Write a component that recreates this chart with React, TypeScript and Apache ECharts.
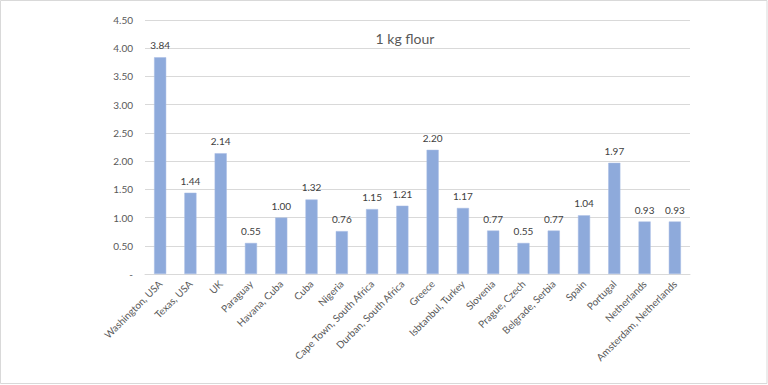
import React, { useEffect, useRef } from "react";
import * as echarts from "echarts";

const categories = [
  "Washington, USA",
  "Texas, USA",
  "UK",
  "Paraguay",
  "Havana, Cuba",
  "Cuba",
  "Nigeria",
  "Cape Town, South Africa",
  "Durban, South Africa",
  "Greece",
  "Isbtanbul, Turkey",
  "Slovenia",
  "Prague, Czech",
  "Belgrade, Serbia",
  "Spain",
  "Portugal",
  "Netherlands",
  "Amsterdam, Netherlands",
];

const values = [3.84, 1.44, 2.14, 0.55, 1.0, 1.32, 0.76, 1.15, 1.21, 2.2, 1.17, 0.77, 0.55, 0.77, 1.04, 1.97, 0.93, 0.93];

const titleText = "1 kg flour";
const yMin = 0;
const yMax = 4.5;
const yStep = 0.5;

const FONT = "Lato, 'Open Sans', sans-serif";

export default function App() {
  const ref = useRef<HTMLDivElement>(null);
  useEffect(() => {
    if (!ref.current) return;
    const chart = echarts.init(ref.current, null, { renderer: "svg" });
    chart.setOption({
      animation: false,
      backgroundColor: "#ffffff",
      textStyle: { fontFamily: FONT },
      title: {
        text: titleText,
        left: 400,
        top: 26,
        textAlign: "center",
        textStyle: { fontFamily: FONT, fontSize: 14, fontWeight: "normal", color: "#595959" },
      },
      graphic: [
        {
          type: "rect",
          shape: { x: 0.5, y: 0.5, width: 766.5, height: 383 },
          style: { fill: "none", stroke: "#d9d9d9", lineWidth: 1 },
          silent: true,
        },
      ],
      grid: { left: 145, right: 78, top: 20, bottom: 111, containLabel: false },
      xAxis: {
        type: "category",
        data: categories,
        axisLine: { show: true, lineStyle: { color: "#d9d9d9", width: 1 } },
        axisTick: { show: false },
        axisLabel: {
          interval: 0,
          rotate: 45,
          margin: 8,
          fontFamily: FONT,
          fontSize: 10,
          color: "#595959",
        },
      },
      yAxis: {
        type: "value",
        min: yMin,
        max: yMax,
        interval: yStep,
        axisLine: { show: false },
        axisTick: { show: false },
        splitLine: { show: true, lineStyle: { color: "#d9d9d9", width: 1 } },
        axisLabel: {
          margin: 12,
          fontFamily: FONT,
          fontSize: 10,
          color: "#595959",
          formatter: (v: number) => (v === 0 ? "-" : v.toFixed(2)),
        },
      },
      series: [
        {
          type: "bar",
          data: values,
          barCategoryGap: "60%",
          itemStyle: { color: "#8eaadb", borderColor: "#a9bde4", borderWidth: 0.5 },
          label: {
            show: true,
            position: "top",
            distance: 7,
            fontFamily: FONT,
            fontSize: 10,
            color: "#404040",
            formatter: (p: any) => Number(p.value).toFixed(2),
          },
        },
      ],
    });
    return () => chart.dispose();
  }, []);
  return (
    <div
      ref={ref}
      style={{ position: "fixed", left: 0, top: 0, width: 768, height: 385, background: "#fff" }}
    />
  );
}
